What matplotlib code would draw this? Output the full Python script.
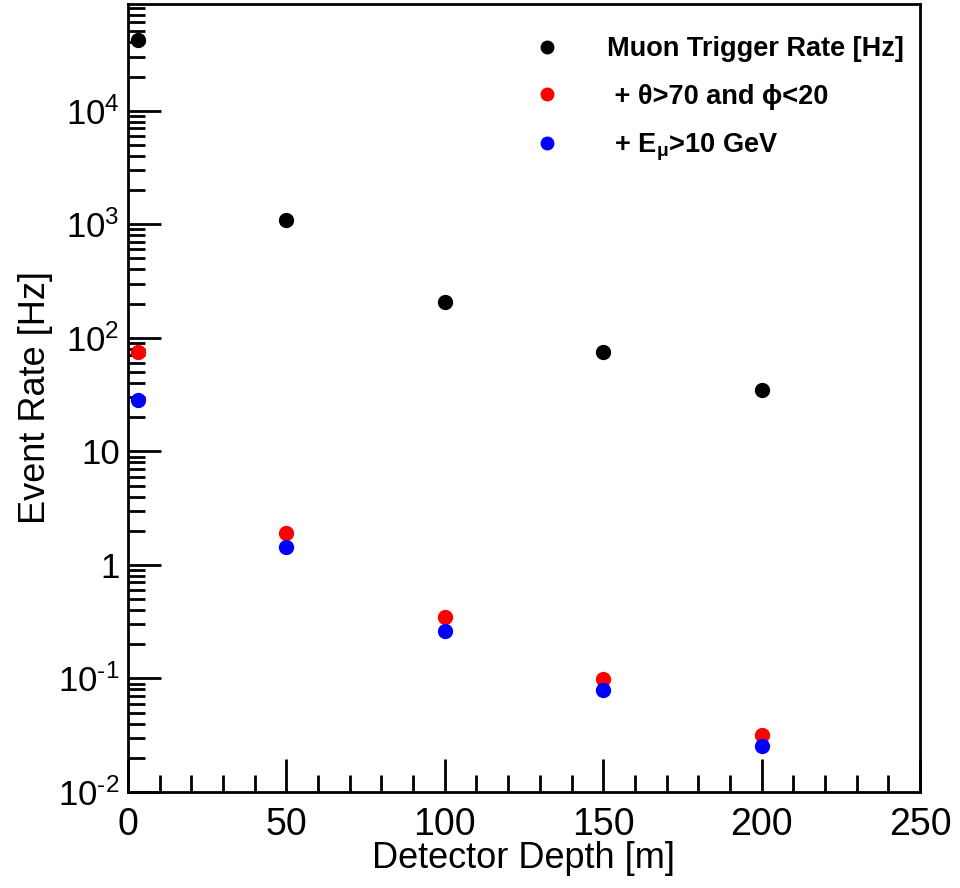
import matplotlib
matplotlib.use("Agg")
import matplotlib.pyplot as plt
from matplotlib.ticker import FixedLocator, MultipleLocator, FuncFormatter
import numpy as np

plt.rcParams['font.family'] = ['Liberation Sans', 'DejaVu Sans']
plt.rcParams['mathtext.fontset'] = 'custom'
plt.rcParams['mathtext.rm'] = 'Liberation Sans'
plt.rcParams['mathtext.it'] = 'Liberation Sans:italic'
plt.rcParams['mathtext.bf'] = 'Liberation Sans:bold'

# Data
depth = [3, 50, 100, 150, 200]
rate_all = [42300, 1090, 207, 74.6, 34.7]
rate_angle = [75.6, 1.92, 0.351, 0.098, 0.0319]
rate_energy = [28.3, 1.44, 0.262, 0.079, 0.0255]

labels = ['Muon Trigger Rate [Hz]',
          ' + \u03b8>70 and \u03d5<20',
          ' + E$\\mathregular{_{\u03bc}}$>10 GeV']
colors = ['black', 'red', 'blue']

fig = plt.figure(figsize=(9.6, 8.88), dpi=100)
ax = fig.add_axes([128/960, 1-792/888, (920-128)/960, (792-4)/888])

for y, lab, c in zip([rate_all, rate_angle, rate_energy], labels, colors):
    ax.plot(depth, y, 'o', color=c, markersize=10, linestyle='none', label=lab)

ax.set_yscale('log')
ax.set_xlim(0, 250)
ax.set_ylim(1e-2, 10**4.94)

def yfmt(v, pos):
    e = int(round(np.log10(v)))
    if e == 0:
        return '1'
    if e == 1:
        return '10'
    if e < 0:
        return r'$\mathregular{10^{\text{-}%d}}$' % (-e)
    return r'$\mathregular{10^{%d}}$' % e

ax.yaxis.set_major_locator(FixedLocator([1e-2, 1e-1, 1, 10, 1e2, 1e3, 1e4]))
ax.yaxis.set_major_formatter(FuncFormatter(yfmt))
ax.xaxis.set_major_locator(MultipleLocator(50))
ax.xaxis.set_minor_locator(MultipleLocator(10))

ax.tick_params(axis='both', which='both', direction='in', top=False, right=False, width=2)
ax.tick_params(axis='y', which='major', labelsize=25, length=24, pad=6)
ax.tick_params(axis='x', which='major', labelsize=27, length=24, pad=11)
ax.tick_params(axis='both', which='minor', length=12)
for s in ax.spines.values():
    s.set_linewidth(2)

ax.set_xlabel('Detector Depth [m]', fontsize=26, labelpad=-2)
ax.set_ylabel('Event Rate [Hz]', fontsize=26, labelpad=4)

leg = ax.legend(loc='upper right', frameon=False, prop={'weight': 'bold', 'size': 19.5},
                bbox_to_anchor=(1.01, 0.99), handletextpad=1.2, labelspacing=0.8,
                markerscale=0.9)

fig.savefig('out.png', dpi=100)
